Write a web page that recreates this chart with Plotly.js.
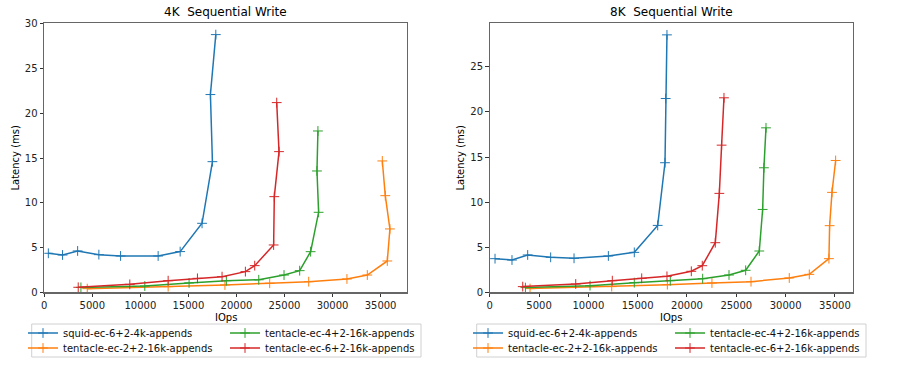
<!DOCTYPE html>
<html>
<head>
<meta charset="utf-8">
<script src="https://cdn.plot.ly/plotly-3.0.1.min.js"></script>
<style>html,body{margin:0;padding:0;background:#fff;}#chart{width:904px;height:376px;}</style>
</head>
<body>
<div id="chart"></div>
<script>
// ---- data ----
const seriesNames = ["squid-ec-6+2-4k-appends", "tentacle-ec-2+2-16k-appends", "tentacle-ec-4+2-16k-appends", "tentacle-ec-6+2-16k-appends"];
const panelTitles = ["4K  Sequential Write", "8K  Sequential Write"];
const xTickVals = [0, 5000, 10000, 15000, 20000, 25000, 30000, 35000];

// 4K panel
const iops4kSquid = [420, 1900, 3470, 5680, 7940, 11850, 14140, 16420, 17500, 17290, 17850];
const lat4kSquid  = [4.36, 4.17, 4.62, 4.21, 4.06, 4.06, 4.55, 7.71, 14.6, 22.1, 28.8];
const iops4kEc22  = [4470, 12890, 18800, 23460, 27520, 31500, 33620, 35700, 35970, 35490, 35180];
const lat4kEc22   = [0.41, 0.63, 0.82, 1.01, 1.19, 1.49, 1.93, 3.5, 7.08, 10.8, 14.68];
const iops4kEc42  = [3810, 10460, 15070, 18950, 22320, 24950, 26580, 27720, 28550, 28380, 28480];
const lat4kEc42   = [0.55, 0.7, 1.05, 1.3, 1.4, 1.93, 2.42, 4.54, 8.94, 13.56, 18.03];
const iops4kEc62  = [3530, 8900, 12890, 15940, 18500, 20930, 21900, 23870, 23940, 24430, 24190];
const lat4kEc62   = [0.56, 0.89, 1.30, 1.56, 1.75, 2.31, 2.98, 5.29, 10.69, 15.72, 21.2];

// 8K panel
const iops8kSquid = [540, 2260, 3850, 6180, 8550, 12030, 14660, 17030, 17770, 17840, 17970];
const lat8kSquid  = [3.73, 3.58, 4.14, 3.88, 3.77, 4.03, 4.43, 7.42, 14.37, 21.49, 28.55];
const iops8kEc22  = [4090, 12370, 18010, 22530, 26490, 30370, 32400, 34390, 34460, 34700, 35070];
const lat8kEc22   = [0.41, 0.63, 0.85, 1.03, 1.18, 1.59, 1.99, 3.73, 7.39, 11.08, 14.62];
const iops8kEc42  = [3620, 10170, 14660, 18310, 21590, 24260, 25950, 27330, 27670, 27800, 28010];
const lat8kEc42   = [0.52, 0.74, 1.07, 1.29, 1.51, 1.92, 2.44, 4.58, 9.19, 13.81, 18.24];
const iops8kEc62  = [3350, 8720, 12430, 15410, 17970, 20440, 21550, 22870, 23280, 23510, 23750];
const lat8kEc62   = [0.63, 0.92, 1.29, 1.55, 1.77, 2.33, 2.95, 5.50, 10.97, 16.32, 21.57];

// ---- styling ----
const colors = ["#1f77b4", "#ff7f0e", "#2ca02c", "#d62728"];
const FONT = "DejaVu Sans";
const W = 904, H = 376;
const px = v => v / W;
const py = v => 1 - v / H;

const panels = [
  {xs: [iops4kSquid, iops4kEc22, iops4kEc42, iops4kEc62], ys: [lat4kSquid, lat4kEc22, lat4kEc42, lat4kEc62], xa: "x", ya: "y"},
  {xs: [iops8kSquid, iops8kEc22, iops8kEc42, iops8kEc62], ys: [lat8kSquid, lat8kEc22, lat8kEc42, lat8kEc62], xa: "x2", ya: "y2"}
];

const traces = [];
let legendIdx = 1;
const legendDefs = {};
const legendOffsets = [0, 445];
const colText = [63, 265];
const rowY = [333, 348];
panels.forEach((p, pi) => {
  for (let s = 0; s < 4; s++) {
    const lname = legendIdx === 1 ? "legend" : "legend" + legendIdx;
    const col = s < 2 ? 0 : 1, row = s % 2;
    legendDefs[lname] = {
      x: px(colText[col] - 40 + legendOffsets[pi]), y: py(rowY[row]),
      xanchor: "left", yanchor: "middle",
      bgcolor: "rgba(0,0,0,0)", borderwidth: 0,
      font: {family: FONT, size: 10, color: "#111"},
      itemwidth: 30
    };
    traces.push({
      type: "scatter", mode: "lines+markers",
      x: p.xs[s], y: p.ys[s], xaxis: p.xa, yaxis: p.ya,
      name: seriesNames[s], legend: lname,
      line: {color: colors[s], width: 1.5},
      marker: {symbol: "cross-thin", size: 7, color: colors[s], line: {color: colors[s], width: 1}},
      hoverinfo: "x+y+name"
    });
    legendIdx++;
  }
});

const axisCommon = {
  showgrid: false, zeroline: false, showline: true, mirror: true,
  linecolor: "#666", linewidth: 1.2,
  ticks: "outside", ticklen: 3.5, tickwidth: 1, tickcolor: "#333",
  tickfont: {family: FONT, size: 10, color: "#222"}
};

const yDom = [1 - 292.3 / H, 1 - 22.7 / H];
const layout = {
  width: W, height: H,
  margin: {l: 0, r: 0, t: 0, b: 0},
  paper_bgcolor: "#fff", plot_bgcolor: "#fff",
  font: {family: FONT, size: 10, color: "#000"},
  showlegend: true,
  xaxis: Object.assign({}, axisCommon, {domain: [px(44.3), px(407)], range: [0, 37750], tickvals: xTickVals, tickformat: "d", anchor: "y"}),
  yaxis: Object.assign({}, axisCommon, {domain: yDom, range: [0, 30.13], dtick: 5, tick0: 0, anchor: "x"}),
  xaxis2: Object.assign({}, axisCommon, {domain: [px(489.7), px(852.7)], range: [0, 36800], tickvals: xTickVals, tickformat: "d", anchor: "y2"}),
  yaxis2: Object.assign({}, axisCommon, {domain: yDom, range: [0, 29.9], dtick: 5, tick0: 0, anchor: "x2"}),
  annotations: [
    {text: panelTitles[0], xref: "paper", yref: "paper", x: px(225.6), y: py(12), showarrow: false, xanchor: "center", yanchor: "middle", font: {family: FONT, size: 12, color: "#000"}},
    {text: panelTitles[1], xref: "paper", yref: "paper", x: px(671.2), y: py(12), showarrow: false, xanchor: "center", yanchor: "middle", font: {family: FONT, size: 12, color: "#000"}},
    {text: "IOps", xref: "paper", yref: "paper", x: px(225.6), y: py(317.5), showarrow: false, xanchor: "center", yanchor: "middle", font: {family: FONT, size: 10, color: "#000"}},
    {text: "IOps", xref: "paper", yref: "paper", x: px(671.2), y: py(317.5), showarrow: false, xanchor: "center", yanchor: "middle", font: {family: FONT, size: 10, color: "#000"}},
    {text: "Latency (ms)", xref: "paper", yref: "paper", x: px(15), y: py(157.5), textangle: -90, showarrow: false, xanchor: "center", yanchor: "middle", font: {family: FONT, size: 10, color: "#000"}},
    {text: "Latency (ms)", xref: "paper", yref: "paper", x: px(460), y: py(157.5), textangle: -90, showarrow: false, xanchor: "center", yanchor: "middle", font: {family: FONT, size: 10, color: "#000"}}
  ],
  shapes: [
    {type: "rect", xref: "paper", yref: "paper", x0: px(31.7), x1: px(421), y0: py(357), y1: py(324), line: {color: "#d0d0d0", width: 1}, fillcolor: "rgba(255,255,255,0.8)", layer: "below"},
    {type: "rect", xref: "paper", yref: "paper", x0: px(476.7), x1: px(866), y0: py(357), y1: py(324), line: {color: "#d0d0d0", width: 1}, fillcolor: "rgba(255,255,255,0.8)", layer: "below"}
  ]
};
Object.assign(layout, legendDefs);

Plotly.newPlot("chart", traces, layout, {displayModeBar: false, staticPlot: true});
</script>
</body>
</html>
